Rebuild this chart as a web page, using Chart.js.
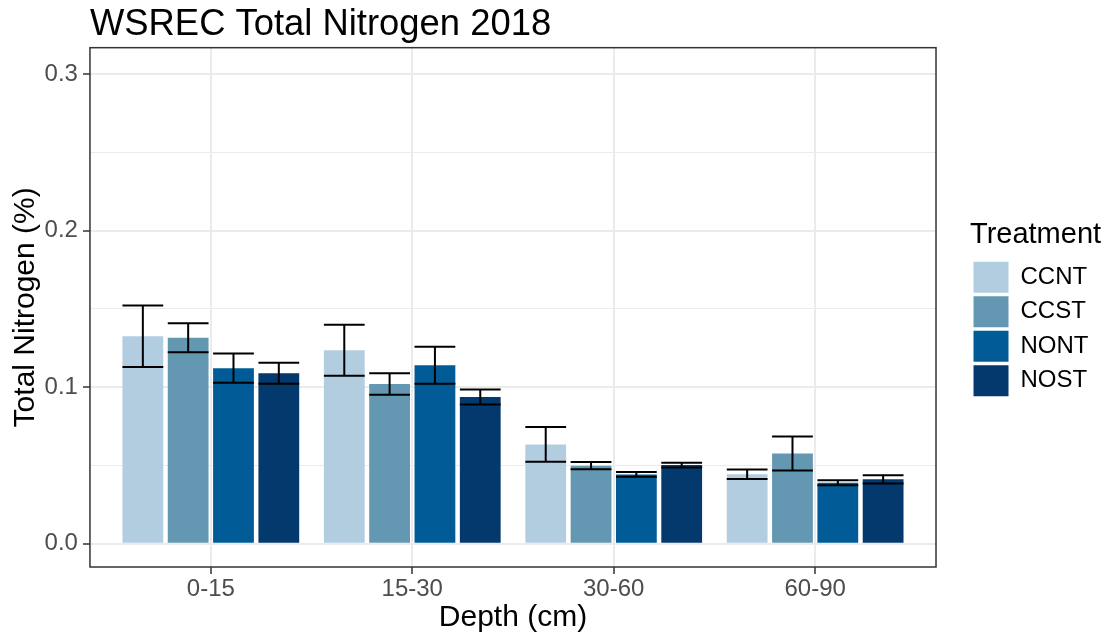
<!DOCTYPE html>
<html>
<head>
<meta charset="utf-8">
<title>WSREC Total Nitrogen 2018</title>
<script src="https://cdn.jsdelivr.net/npm/chart.js@4.4.1/dist/chart.umd.min.js"></script>
<style>
    html, body { margin: 0; padding: 0; background: #fff; overflow: hidden; }
    #wrap { position: relative; width: 1113px; height: 636px; }
    #wrap canvas { display: block; }
</style>
</head>
<body>
<div id="wrap"><canvas id="nitrogenChart"></canvas></div>
<script>
const depths = ['0-15', '15-30', '30-60', '60-90'];
const treatments = ['CCNT', 'CCST', 'NONT', 'NOST'];
const treatmentColors = ['#b3cde0', '#6497b1', '#005b96', '#03396c'];

// Mean total nitrogen (%) by depth, one array per treatment
const ccntMean = [0.1325, 0.1236, 0.0634, 0.0443];
const ccstMean = [0.1315, 0.1020, 0.0498, 0.0576];
const nontMean = [0.1121, 0.1140, 0.0442, 0.0389];
const nostMean = [0.1089, 0.0937, 0.0502, 0.0411];

// Standard errors for the error bars
const ccntSe = [0.0196, 0.0163, 0.0111, 0.0030];
const ccstSe = [0.0093, 0.0069, 0.0023, 0.0108];
const nontSe = [0.0093, 0.0118, 0.0015, 0.0016];
const nostSe = [0.0067, 0.0048, 0.0015, 0.0026];

const yTicks = [0, 0.05, 0.1, 0.15, 0.2, 0.25, 0.3];

const means = [ccntMean, ccstMean, nontMean, nostMean];
const errors = [ccntSe, ccstSe, nontSe, nostSe];

const isMajor = v => Math.abs(v * 10 - Math.round(v * 10)) < 1e-6;

Chart.defaults.font.family = "'Liberation Sans', Arial, sans-serif";

// mean +/- se whiskers on top of each bar
const errorBars = {
    id: 'errorBars',
    afterDatasetsDraw(chart) {
        const ctx = chart.ctx;
        const yScale = chart.scales.y;
        ctx.save();
        ctx.strokeStyle = '#000000';
        ctx.lineWidth = 2;
        chart.data.datasets.forEach((ds, i) => {
            const meta = chart.getDatasetMeta(i);
            meta.data.forEach((bar, j) => {
                const m = ds.data[j].y;
                const e = ds.errors[j];
                const top = yScale.getPixelForValue(m + e);
                const bot = yScale.getPixelForValue(m - e);
                const half = bar.width / 2;
                ctx.beginPath();
                ctx.moveTo(bar.x, top);
                ctx.lineTo(bar.x, bot);
                ctx.moveTo(bar.x - half, top);
                ctx.lineTo(bar.x + half, top);
                ctx.moveTo(bar.x - half, bot);
                ctx.lineTo(bar.x + half, bot);
                ctx.stroke();
            });
        });
        ctx.restore();
    }
};

// box around the plotting area
const panelBorder = {
    id: 'panelBorder',
    afterDraw(chart) {
        const { ctx, chartArea: a } = chart;
        ctx.save();
        ctx.strokeStyle = '#333333';
        ctx.lineWidth = 1.5;
        ctx.strokeRect(a.left, a.top, a.right - a.left, a.bottom - a.top);
        ctx.restore();
    }
};

// the legend title is wider than the key column; widen the legend box so it is not clipped
const legendRoom = {
    id: 'legendRoom',
    beforeLayout(chart) {
        const lg = chart.legend;
        if (lg && !lg.$widened) {
            const fit = lg.fit;
            lg.fit = function () {
                fit.call(this);
                this.width += 14.5;
            };
            lg.$widened = true;
        }
    }
};

const datasets = treatments.map((name, i) => ({
    label: name,
    data: means[i].map((v, k) => ({ x: k + 1, y: v })),
    errors: errors[i],
    backgroundColor: treatmentColors[i],
    borderWidth: 0,
    categoryPercentage: 0.9,
    barPercentage: 0.9
}));

new Chart(document.getElementById('nitrogenChart'), {
    type: 'bar',
    data: { datasets: datasets },
    plugins: [legendRoom, errorBars, panelBorder],
    options: {
        responsive: true,
        maintainAspectRatio: false,
        animation: false,
        layout: { padding: { left: 12.6, right: 0, top: 0, bottom: 5 } },
        plugins: {
            title: {
                display: true,
                text: 'WSREC Total Nitrogen 2018',
                align: 'start',
                fullSize: false,
                color: '#000000',
                font: { size: 36.4, weight: 'normal' },
                padding: { top: 3, bottom: 1 }
            },
            legend: {
                position: 'right',
                align: 'center',
                fullSize: false,
                labels: {
                    boxWidth: 35,
                    boxHeight: 31,
                    padding: 3.5,
                    color: '#000000',
                    font: { size: 24 }
                },
                title: {
                    display: true,
                    text: 'Treatment',
                    position: 'start',
                    color: '#000000',
                    font: { size: 29 },
                    padding: { top: 5.4, bottom: 3.1 }
                }
            },
            tooltip: { enabled: false }
        },
        scales: {
            x: {
                type: 'linear',
                offset: false,
                min: 0.4,
                max: 4.6,
                afterBuildTicks: s => { s.ticks = depths.map((d, k) => ({ value: k + 1 })); },
                ticks: {
                    callback: v => depths[v - 1],
                    color: '#4d4d4d',
                    padding: 3,
                    font: { size: 24, lineHeight: 1 }
                },
                grid: { offset: false, color: '#ebebeb', lineWidth: 2, tickColor: '#333333', tickLength: 7, tickWidth: 1.5 },
                border: { display: false },
                title: {
                    display: true,
                    text: 'Depth (cm)',
                    color: '#000000',
                    font: { size: 30, lineHeight: 0.9 },
                    padding: 0
                }
            },
            y: {
                min: -0.0149,
                max: 0.3168,
                afterBuildTicks: s => { s.ticks = yTicks.map(v => ({ value: v })); },
                ticks: {
                    callback: v => isMajor(v) ? v.toFixed(1) : '',
                    color: '#4d4d4d',
                    padding: 5,
                    font: { size: 24, lineHeight: 1 }
                },
                grid: {
                    color: '#ebebeb',
                    lineWidth: c => isMajor(c.tick.value) ? 2 : 1,
                    tickColor: c => isMajor(c.tick.value) ? '#333333' : 'rgba(0,0,0,0)',
                    tickLength: 7,
                    tickWidth: 1.5
                },
                border: { display: false },
                title: {
                    display: true,
                    text: 'Total Nitrogen (%)',
                    color: '#000000',
                    font: { size: 30, lineHeight: 0.9 },
                    padding: 0
                }
            },
            // empty right-hand axis keeping the legend clear of the panel
            gap: {
                type: 'linear',
                position: 'right',
                display: true,
                ticks: { display: false },
                grid: { display: false },
                border: { display: false },
                afterFit: s => { s.width = 34; }
            }
        }
    }
});
</script>
</body>
</html>
